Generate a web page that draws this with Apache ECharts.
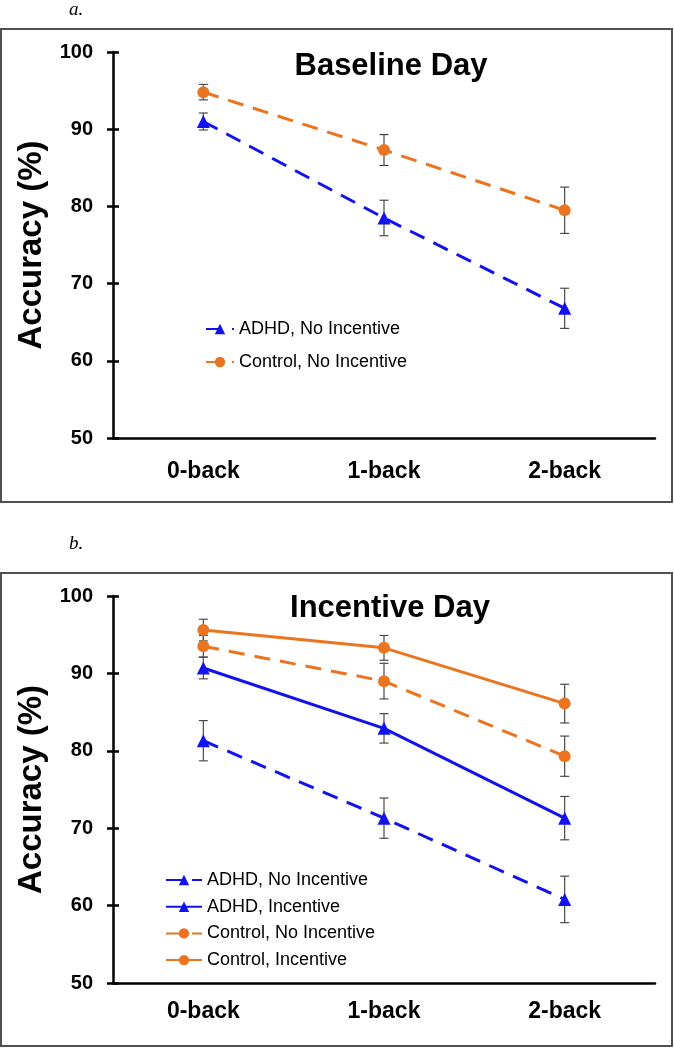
<!DOCTYPE html>
<html>
<head>
<meta charset="utf-8">
<script src="https://cdn.jsdelivr.net/npm/echarts@6/dist/echarts.min.js"></script>
<style>
html,body{margin:0;padding:0;background:#fff;}
#chart{width:674px;height:1049px;}
</style>
</head>
<body>
<div id="chart"></div>
<script>
// ---------- data ----------
const categories = ['0-back', '1-back', '2-back'];
const yTicks = [50, 60, 70, 80, 90, 100];

// Panel a: Baseline Day
const baseAdhdNoInc = [91.0, 78.5, 66.8];
const baseAdhdNoIncErr = [1.1, 2.3, 2.6];
const baseCtrlNoInc = [94.8, 87.3, 79.5];
const baseCtrlNoIncErr = [1.0, 2.0, 3.0];

// Panel b: Incentive Day
const incAdhdNoInc = [81.3, 71.3, 60.8];
const incAdhdNoIncErr = [2.6, 2.6, 3.0];
const incAdhdInc = [90.7, 82.9, 71.3];
const incAdhdIncErr = [1.4, 1.9, 2.8];
const incCtrlNoInc = [93.5, 89.0, 79.3];
const incCtrlNoIncErr = [1.4, 2.3, 2.6];
const incCtrlInc = [95.6, 93.3, 86.1];
const incCtrlIncErr = [1.4, 1.6, 2.5];

const names = ['ADHD, No Incentive', 'ADHD, Incentive', 'Control, No Incentive', 'Control, Incentive'];

// ---------- styles ----------
const BLUE = '#1212EE';
const ORANGE = '#EA7420';
const FONT = '"Liberation Sans", Arial, sans-serif';
const DASH = [16, 10];

function errSeries(vals, errs, gi) {
  return {
    type: 'custom',
    xAxisIndex: gi, yAxisIndex: gi * 2,
    silent: true, z: 1,
    data: categories.map((c, i) => [i, vals[i] - errs[i], vals[i] + errs[i]]),
    renderItem: function (params, api) {
      const lo = api.coord([api.value(0), api.value(1)]);
      const hi = api.coord([api.value(0), api.value(2)]);
      const w = 4.5;
      const st = { stroke: '#4a4a4a', lineWidth: 1.2 };
      return {
        type: 'group',
        children: [
          { type: 'line', shape: { x1: lo[0], y1: lo[1], x2: hi[0], y2: hi[1] }, style: st },
          { type: 'line', shape: { x1: lo[0] - w, y1: lo[1], x2: lo[0] + w, y2: lo[1] }, style: st },
          { type: 'line', shape: { x1: hi[0] - w, y1: hi[1], x2: hi[0] + w, y2: hi[1] }, style: st }
        ]
      };
    }
  };
}

function lineSeries(name, vals, gi, color, dashed, symbol) {
  return {
    type: 'line', name: name,
    xAxisIndex: gi, yAxisIndex: gi * 2,
    data: vals, z: 3,
    symbol: symbol, symbolSize: symbol === 'circle' ? 12 : 13,
    itemStyle: { color: color },
    lineStyle: { color: color, width: 3, type: dashed ? DASH : 'solid' },
    emphasis: { disabled: true },
    animation: false
  };
}

function xAxis(gi, margin) {
  return {
    type: 'category', gridIndex: gi, data: categories,
    axisLine: { lineStyle: { color: '#000', width: 2.5 } },
    axisTick: { show: false },
    axisLabel: { color: '#000', fontFamily: FONT, fontWeight: 'bold', fontSize: 23, margin: margin }
  };
}

function yAxes(gi) {
  const common = { type: 'value', gridIndex: gi, position: 'left', offset: 0,
    min: 50, max: 100, interval: 10, splitLine: { show: false } };
  return [
    Object.assign({}, common, {
      axisLine: { show: true, lineStyle: { color: '#000', width: 2.5 } },
      axisTick: { show: true, length: 6, lineStyle: { color: '#000', width: 2.5 } },
      axisLabel: { color: '#000', fontFamily: FONT, fontWeight: 'bold', fontSize: 20, margin: 20,
        formatter: v => yTicks.includes(v) ? String(v) : '' },
      name: 'Accuracy (%)', nameLocation: 'middle', nameGap: 63,
      nameTextStyle: { color: '#000', fontFamily: FONT, fontWeight: 'bold', fontSize: 33 }
    }),
    Object.assign({}, common, {
      axisLine: { show: false },
      axisTick: { show: true, inside: true, length: 6, lineStyle: { color: '#000', width: 2.5 } },
      axisLabel: { show: false }
    })
  ];
}

const option = {
  animation: false,
  backgroundColor: '#fff',
  title: [
    { text: 'Baseline Day', left: 386, top: 46, textAlign: 'center',
      textStyle: { fontFamily: FONT, fontWeight: 'bold', fontSize: 31, color: '#000' } },
    { text: 'Incentive Day', left: 385, top: 588, textAlign: 'center',
      textStyle: { fontFamily: FONT, fontWeight: 'bold', fontSize: 31, color: '#000' } }
  ],
  grid: [
    { left: 113, top: 52, width: 542, height: 386, containLabel: false },
    { left: 113, top: 596, width: 542, height: 387, containLabel: false }
  ],
  xAxis: [xAxis(0, 22), xAxis(1, 17)],
  yAxis: [].concat(yAxes(0), yAxes(1)),
  legend: [
    { data: [names[0], names[2]], orient: 'vertical', left: 200, top: 314,
      itemWidth: 28, itemHeight: 13, itemGap: 13,
      textStyle: { fontFamily: FONT, fontSize: 18, color: '#000', lineHeight: 20 },
      selectedMode: false },
    { data: names, orient: 'vertical', left: 160, top: 865,
      itemWidth: 36, itemHeight: 13, itemGap: 6.7,
      textStyle: { fontFamily: FONT, fontSize: 18, color: '#000', lineHeight: 20 },
      selectedMode: false }
  ],
  graphic: [
    { type: 'rect', shape: { x: 1, y: 29, width: 671, height: 473 }, style: { fill: 'none', stroke: '#505050', lineWidth: 2 }, silent: true },
    { type: 'rect', shape: { x: 1, y: 573, width: 671, height: 473 }, style: { fill: 'none', stroke: '#505050', lineWidth: 2 }, silent: true },
    { type: 'text', left: 69, top: 0, style: { text: 'a.', font: 'italic 19px "Liberation Serif", serif', fill: '#000' } },
    { type: 'text', left: 69, top: 534, style: { text: 'b.', font: 'italic 19px "Liberation Serif", serif', fill: '#000' } }
  ],
  series: [
    errSeries(baseAdhdNoInc, baseAdhdNoIncErr, 0),
    errSeries(baseCtrlNoInc, baseCtrlNoIncErr, 0),
    lineSeries(names[0], baseAdhdNoInc, 0, BLUE, true, 'triangle'),
    lineSeries(names[2], baseCtrlNoInc, 0, ORANGE, true, 'circle'),

    errSeries(incAdhdNoInc, incAdhdNoIncErr, 1),
    errSeries(incAdhdInc, incAdhdIncErr, 1),
    errSeries(incCtrlNoInc, incCtrlNoIncErr, 1),
    errSeries(incCtrlInc, incCtrlIncErr, 1),
    lineSeries(names[0], incAdhdNoInc, 1, BLUE, true, 'triangle'),
    lineSeries(names[1], incAdhdInc, 1, BLUE, false, 'triangle'),
    lineSeries(names[2], incCtrlNoInc, 1, ORANGE, true, 'circle'),
    lineSeries(names[3], incCtrlInc, 1, ORANGE, false, 'circle')
  ]
};

const chart = echarts.init(document.getElementById('chart'), null, { renderer: 'canvas' });
chart.setOption(option);
</script>
</body>
</html>
